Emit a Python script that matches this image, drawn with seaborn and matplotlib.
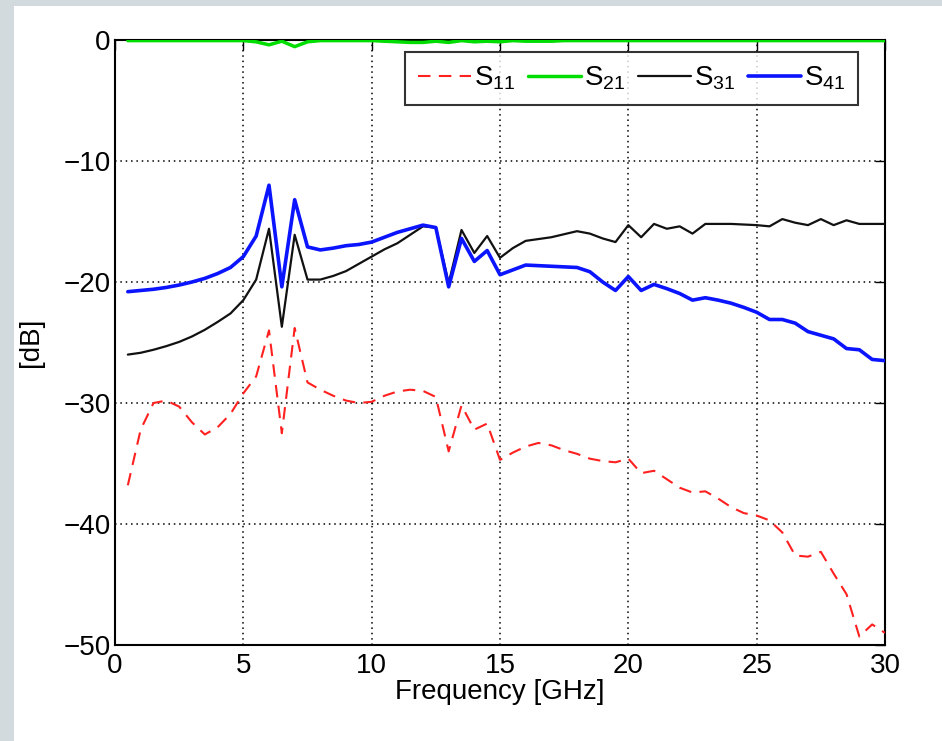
import pandas as pd
import matplotlib.pyplot as plt
import seaborn as sns
from matplotlib.patches import Rectangle

# ---- data ----
freq = [0.5 * i for i in range(1, 61)]

s11 = [-36.8, -32.2, -30.0, -29.8, -30.3, -31.6, -32.6, -32.0, -30.9, -29.2,
       -27.8, -24.0, -32.5, -23.8, -28.3, -28.9, -29.4, -29.8, -30.0, -29.9,
       -29.4, -29.05, -28.9, -29.0, -29.5, -34.0, -30.2, -32.2, -31.7, -34.7,
       -34.1, -33.6, -33.3, -33.5, -33.9, -34.2, -34.6, -34.8, -34.9, -34.6,
       -35.8, -35.6, -36.3, -37.0, -37.4, -37.3, -37.9, -38.6, -39.1, -39.3,
       -39.7, -40.7, -42.6, -42.7, -42.3, -44.1, -45.8, -49.3, -48.3, -49.0]

s21 = [-0.05, -0.05, -0.05, -0.05, -0.05, -0.05, -0.05, -0.05, -0.05, -0.05,
       -0.15, -0.4, -0.1, -0.55, -0.15, -0.05, -0.05, -0.05, -0.05, -0.05,
       -0.1, -0.15, -0.2, -0.2, -0.1, -0.2, -0.05, -0.15, -0.1, -0.15,
       -0.05, -0.1, -0.1, -0.1, -0.05, -0.05, -0.05, -0.05, -0.05, -0.05,
       -0.05, -0.05, -0.05, -0.05, -0.05, -0.05, -0.05, -0.05, -0.05, -0.05,
       -0.05, -0.05, -0.05, -0.05, -0.05, -0.05, -0.05, -0.05, -0.05, -0.05]

s31 = [-26.0, -25.85, -25.6, -25.3, -24.95, -24.5, -23.95, -23.3, -22.6, -21.5,
       -19.8, -15.6, -23.7, -16.1, -19.8, -19.8, -19.5, -19.1, -18.5, -17.9,
       -17.3, -16.8, -16.1, -15.4, -15.5, -20.1, -15.7, -17.6, -16.2, -18.0,
       -17.2, -16.6, -16.45, -16.3, -16.05, -15.8, -16.0, -16.4, -16.7, -15.3,
       -16.3, -15.2, -15.6, -15.4, -16.0, -15.2, -15.2, -15.2, -15.25, -15.3,
       -15.4, -14.8, -15.1, -15.3, -14.8, -15.3, -14.9, -15.2, -15.2, -15.2]

s41 = [-20.8, -20.7, -20.6, -20.45, -20.25, -20.0, -19.7, -19.3, -18.8, -17.9,
       -16.2, -12.0, -20.4, -13.2, -17.1, -17.35, -17.2, -17.0, -16.9, -16.7,
       -16.3, -15.9, -15.6, -15.3, -15.5, -20.4, -16.4, -18.3, -17.4, -19.4,
       -19.0, -18.6, -18.65, -18.7, -18.75, -18.8, -19.15, -20.0, -20.7, -19.55,
       -20.7, -20.2, -20.55, -20.95, -21.5, -21.3, -21.5, -21.75, -22.1, -22.5,
       -23.1, -23.1, -23.4, -24.1, -24.4, -24.7, -25.5, -25.6, -26.4, -26.5]

x_ticks = [0, 5, 10, 15, 20, 25, 30]
y_ticks = [0, -10, -20, -30, -40, -50]

df = pd.DataFrame({"f": freq, "S11": s11, "S21": s21, "S31": s31, "S41": s41})

# ---- plot ----
sns.set_style("white")
plt.rcParams["font.family"] = ["Liberation Sans", "DejaVu Sans"]
plt.rcParams["mathtext.default"] = "regular"
plt.rcParams["text.color"] = "black"
plt.rcParams["axes.labelcolor"] = "black"

fig = plt.figure(figsize=(9.42, 7.41), dpi=100, facecolor="#d3dadd")
fig.patches.append(Rectangle((14 / 942, 0), 1, 735 / 741, transform=fig.transFigure,
                             facecolor="white", edgecolor="none", zorder=-1))
ax = fig.add_axes([115 / 942, 96 / 741, 770 / 942, 605 / 741])

sns.lineplot(data=df, x="f", y="S11", ax=ax, color="#ff2020", lw=1.5,
             linestyle=(0, (6, 4)), label=r"S$_{11}$")
sns.lineplot(data=df, x="f", y="S21", ax=ax, color="#00dd00", lw=2.5,
             label=r"S$_{21}$")
sns.lineplot(data=df, x="f", y="S31", ax=ax, color="#111111", lw=1.6,
             label=r"S$_{31}$")
sns.lineplot(data=df, x="f", y="S41", ax=ax, color="#0a14ff", lw=2.6,
             label=r"S$_{41}$")

ax.set_xlim(0, 30)
ax.set_ylim(-50, 0)
ax.set_xticks(x_ticks)
ax.set_yticks(y_ticks)
ax.grid(True, color="black", linestyle=(0, (1, 2.5)), lw=1.1)
ax.set_axisbelow(True)
ax.tick_params(direction="in", length=7, width=1, top=True, right=True,
               labelsize=20, colors="black")
ax.tick_params(axis="x", pad=6)
ax.tick_params(axis="y", pad=3)
for sp in ax.spines.values():
    sp.set_color("black")
    sp.set_linewidth(1.5)
    sp.set_zorder(1)

ax.set_xlabel("Frequency [GHz]", fontsize=20, labelpad=0)
ax.set_ylabel("[dB]", fontsize=20, labelpad=14)

leg = ax.legend(loc="upper right", bbox_to_anchor=(0.965, 0.98), borderaxespad=0,
                ncol=4, fontsize=20, frameon=True, fancybox=False,
                handlelength=1.9, handletextpad=0.12, columnspacing=0.45,
                borderpad=0.45)
leg.get_frame().set_edgecolor("black")
leg.get_frame().set_linewidth(1.5)

plt.savefig("out.png", dpi=100, facecolor=fig.get_facecolor())
plt.close()
